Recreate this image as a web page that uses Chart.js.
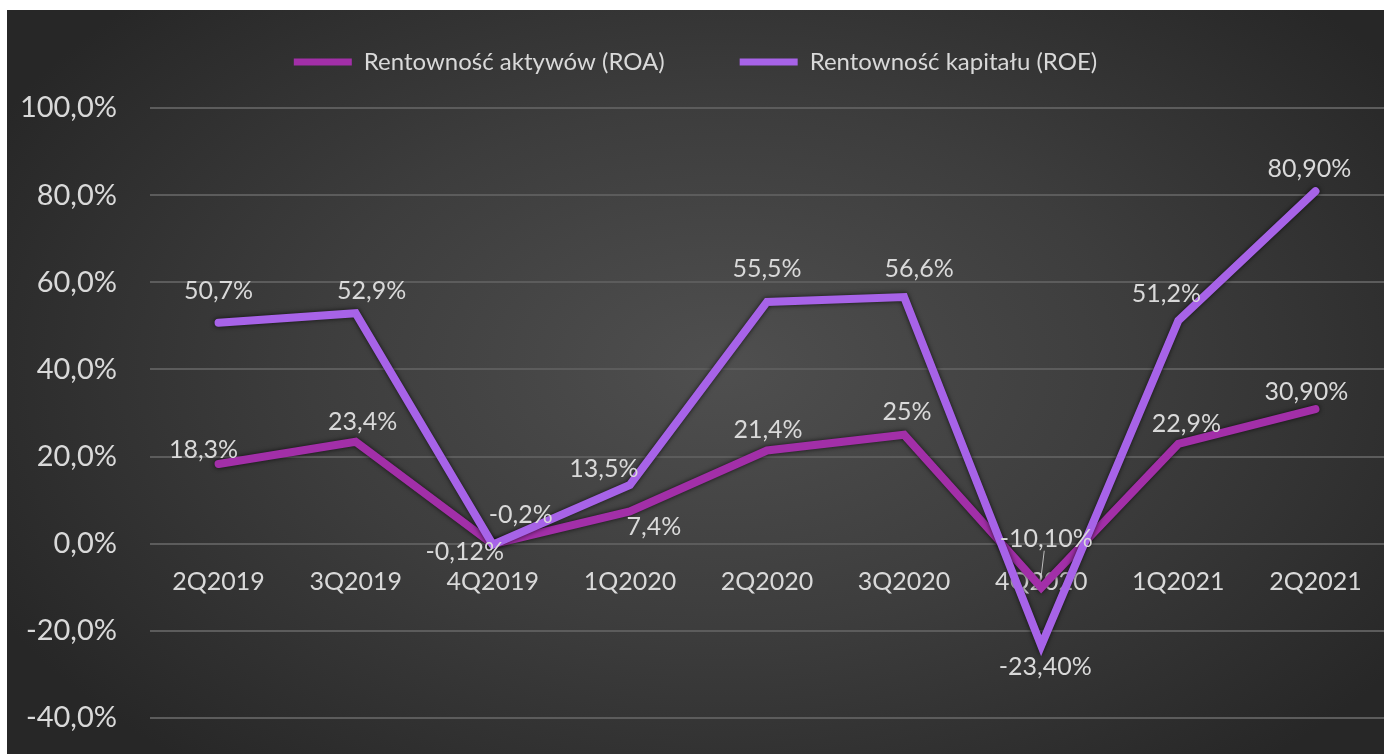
<!DOCTYPE html>
<html lang="pl">
<head>
    <meta charset="UTF-8">
    <title>Rentowność ROA / ROE</title>
    <script src="https://cdn.jsdelivr.net/npm/chart.js@4"></script>
    <style>
        body { margin: 0; background: #fff; }
        #wrap {
            position: absolute; left: 7px; top: 10px; width: 1377px; height: 744px;
            background: radial-gradient(ellipse 60% 70% at 52% 48%, #4f4f4f 0%, #3d3d3d 50%, #272727 100%);
        }
    </style>
</head>
<body>
    <div id="wrap"><canvas id="chart"></canvas></div>
    <script>
        const quarters = ['2Q2019', '3Q2019', '4Q2019', '1Q2020', '2Q2020', '3Q2020', '4Q2020', '1Q2021', '2Q2021'];
        const roa = [18.3, 23.4, -0.12, 7.4, 21.4, 25, -10.1, 22.9, 30.9];
        const roe = [50.7, 52.9, -0.2, 13.5, 55.5, 56.6, -23.4, 51.2, 80.9];
        const roaLabels = ['18,3%', '23,4%', '-0,12%', '7,4%', '21,4%', '25%', '-10,10%', '22,9%', '30,90%'];
        const roeLabels = ['50,7%', '52,9%', '-0,2%', '13,5%', '55,5%', '56,6%', '-23,40%', '51,2%', '80,90%'];
        const yTicks = [-40, -20, 0, 20, 40, 60, 80, 100];

        // where each value label sits relative to its point (dx, dy)
        const roaOffsets = [[-15, -14], [7, -20], [-28, 8], [24, 15], [1, -21], [3, -23], [5, -49], [8, -20], [-9, -17]];
        const roeOffsets = [[0, -32], [16, -22], [28, -30], [-26, -16], [0, -33], [15, -28], [4, 21], [-12, -27], [-6, -22]];

        const textColor = '#d9d9d9';

        const lineShadow = {
            id: 'lineShadow',
            beforeDatasetsDraw(chart) {
                const ctx = chart.ctx;
                ctx.save();
                ctx.shadowColor = 'rgba(0,0,0,0.75)';
                ctx.shadowBlur = 5;
            },
            afterDatasetsDraw(chart) {
                chart.ctx.restore();
            }
        };

        // extra room under the legend
        const legendGap = {
            id: 'legendGap',
            beforeInit(chart) {
                const fit = chart.legend.fit;
                chart.legend.fit = function () {
                    fit.call(this);
                    this.height += 24;
                };
            }
        };

        const valueLabels = {
            id: 'valueLabels',
            afterDatasetsDraw(chart) {
                const ctx = chart.ctx;
                const sets = [[0, roaLabels, roaOffsets], [1, roeLabels, roeOffsets]];
                ctx.save();
                ctx.font = '25px Lato';
                ctx.fillStyle = textColor;
                ctx.textAlign = 'center';
                ctx.textBaseline = 'middle';
                sets.forEach(([idx, texts, offs]) => {
                    const meta = chart.getDatasetMeta(idx);
                    meta.data.forEach((pt, i) => {
                        ctx.fillText(texts[i], pt.x + offs[i][0], pt.y + offs[i][1]);
                    });
                });
                // leader line for the 4Q2020 ROA label
                const p = chart.getDatasetMeta(0).data[6];
                ctx.strokeStyle = '#bdbdbd';
                ctx.lineWidth = 1;
                ctx.beginPath();
                ctx.moveTo(p.x + 3, p.y - 37);
                ctx.lineTo(p.x, p.y - 12);
                ctx.stroke();
                ctx.restore();
            }
        };

        new Chart(document.getElementById('chart'), {
            type: 'line',
            data: {
                labels: quarters,
                datasets: [
                    {
                        label: 'Rentowność aktywów (ROA)',
                        data: roa,
                        borderColor: '#a22fa8',
                        backgroundColor: '#a22fa8',
                        borderWidth: 8,
                        pointRadius: 0,
                        borderJoinStyle: 'miter',
                        borderCapStyle: 'round',
                        tension: 0,
                        order: 1
                    },
                    {
                        label: 'Rentowność kapitału (ROE)',
                        data: roe,
                        borderColor: '#a763e8',
                        backgroundColor: '#a763e8',
                        borderWidth: 8,
                        pointRadius: 0,
                        borderJoinStyle: 'miter',
                        borderCapStyle: 'round',
                        tension: 0,
                        order: 0
                    }
                ]
            },
            options: {
                responsive: true,
                maintainAspectRatio: false,
                animation: false,
                layout: { padding: { top: -35, right: 0, bottom: 36, left: 0 } },
                plugins: {
                    tooltip: { enabled: false },
                    legend: {
                        position: 'top',
                        labels: {
                            color: textColor,
                            font: { family: 'Lato', size: 24 },
                            boxWidth: 58,
                            boxHeight: 7,
                            padding: 75,
                            sort: (a, b) => a.datasetIndex - b.datasetIndex,
                            generateLabels: chart => Chart.defaults.plugins.legend.labels.generateLabels(chart)
                                .map(l => ({ ...l, lineWidth: 0, fillStyle: l.strokeStyle }))
                        }
                    }
                },
                scales: {
                    x: {
                        position: { y: 0 },
                        offset: true,
                        afterFit: scale => {
                            scale.height = 0;
                            scale.paddingLeft = 0;
                            scale.paddingRight = 0;
                        },
                        grid: { display: false },
                        border: { display: false },
                        ticks: { color: textColor, font: { family: 'Lato', size: 25 }, padding: 15, maxRotation: 0 }
                    },
                    y: {
                        min: -40,
                        max: 100,
                        afterBuildTicks: scale => { scale.ticks = yTicks.map(v => ({ value: v })); },
                        afterFit: scale => {
                            scale.width = 143;
                            scale.paddingTop = 0;
                            scale.paddingBottom = 0;
                        },
                        grid: { color: '#5c5c5c', lineWidth: 2, drawTicks: false },
                        border: { display: false },
                        ticks: {
                            color: textColor,
                            font: { family: 'Lato', size: 29 },
                            padding: 33,
                            callback: v => v.toFixed(1).replace('.', ',') + '%'
                        }
                    }
                }
            },
            plugins: [lineShadow, legendGap, valueLabels]
        });
    </script>
</body>
</html>
